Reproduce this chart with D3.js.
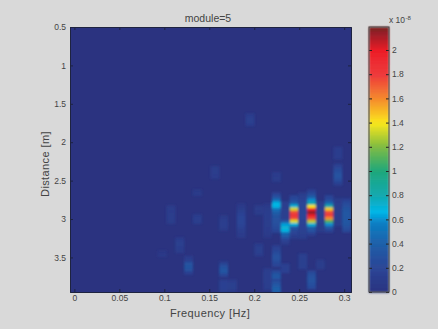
<!DOCTYPE html>
<html>
<head>
<meta charset="utf-8">
<script src="https://cdn.jsdelivr.net/npm/d3@7"></script>
<style>
  html, body { margin: 0; padding: 0; background: #d9d9d9; }
  text { font-family: "Liberation Sans", Arial, sans-serif; fill: #444; }
</style>
</head>
<body>
<div id="chart"></div>
<script>
// x ticks, y ticks and colorbar ticks
var freqTicks = [0, 0.05, 0.1, 0.15, 0.2, 0.25, 0.3];
var distTicks = [0.5, 1, 1.5, 2, 2.5, 3, 3.5];
var barTicks = [0, 0.2, 0.4, 0.6, 0.8, 1, 1.2, 1.4, 1.6, 1.8, 2];

// colormap, values in units of 1e-8
var cmapValues = [0, 0.2, 0.4, 0.58, 0.66, 0.8, 1.0, 1.2, 1.4, 1.6, 1.8, 2.0, 2.19];
var cmapColors = ["#2b3380", "#2a4596", "#1f5fa9", "#0a80c4", "#00b7ea", "#12a9b0", "#1ea77c", "#7dbb43", "#fbe81c", "#f58a2c", "#ee3a3c", "#ec1c28", "#7a2024"];

// non zero patches: frequency of the column, first distance, value every 0.04 m
var patchFreq = [
  0.2441, 0.2637, 0.2832,
  0.2246, 0.2246, 0.2246, 0.2246, 0.2246,
  0.2344, 0.2344, 0.2344,
  0.2539, 0.2539,
  0.2734, 0.2734,
  0.2637,
  0.2930, 0.2930, 0.2930,
  0.3027,
  0.2148, 0.2148,
  0.2051, 0.2051,
  0.1953,
  0.1855,
  0.1660, 0.1660, 0.1660,
  0.1758,
  0.1563,
  0.1367, 0.1367,
  0.1172, 0.1074, 0.0977, 0.1270
];
var patchStart = [
  2.71, 2.635, 2.71,
  2.675, 2.41, 3.36, 3.68, 3.83,
  3.03, 2.79, 3.6,
  2.675, 3.47,
  2.79, 3.55,
  3.69,
  2.08, 2.3, 2.75,
  2.75,
  2.82, 3.66,
  3.34, 2.84,
  1.646,
  2.82,
  2.97, 3.57, 3.81,
  3.81,
  2.33,
  2.635, 2.96,
  3.26, 2.84, 3.43, 3.5
];
var patchValues = [
  [0.2, 0.25, 0.4, 0.7, 1.35, 1.75, 1.85, 1.75, 1.35, 0.7, 0.35, 0.22, 0.18, 0.12],
  [0.15, 0.25, 0.4, 0.6, 0.8, 1.4, 1.95, 2.15, 2.0, 1.75, 1.3, 0.7, 0.4, 0.3, 0.15],
  [0.2, 0.25, 0.45, 0.8, 1.45, 1.75, 1.8, 1.6, 1.1, 0.6, 0.35, 0.2],
  [0.2, 0.3, 0.5, 0.68, 0.68, 0.5, 0.4, 0.32, 0.3, 0.3, 0.28, 0.25, 0.2],
  [0.12, 0.12, 0.12],
  [0.15, 0.2, 0.25, 0.3, 0.3, 0.25, 0.2],
  [0.22, 0.32, 0.35, 0.2],
  [0.3, 0.38, 0.42, 0.4],
  [0.35, 0.62, 0.72, 0.68, 0.45, 0.35, 0.2, 0.12],
  [0.14, 0.14, 0.14, 0.14, 0.14, 0.14],
  [0.15, 0.15, 0.15],
  [0.12, 0.15, 0.18, 0.2, 0.2, 0.2, 0.2, 0.2, 0.2, 0.2, 0.18, 0.18, 0.15, 0.14, 0.12],
  [0.14, 0.14, 0.14, 0.14, 0.14],
  [0.12, 0.14, 0.14, 0.14, 0.14, 0.14, 0.14, 0.12, 0.1, 0.1],
  [0.1, 0.12, 0.1],
  [0.22, 0.28, 0.3, 0.3, 0.28, 0.25],
  [0.12, 0.12, 0.12, 0.12],
  [0.15, 0.22, 0.26, 0.3, 0.3, 0.25, 0.15],
  [0.1, 0.12, 0.12, 0.12, 0.12, 0.12, 0.12, 0.1, 0.1],
  [0.16, 0.24, 0.28, 0.32, 0.34, 0.34, 0.34, 0.34, 0.32, 0.28, 0.22],
  [0.08, 0.1, 0.12, 0.12, 0.12, 0.12, 0.12, 0.12, 0.12, 0.1, 0.08],
  [0.12, 0.14, 0.14, 0.14, 0.14, 0.12, 0.12],
  [0.12, 0.14, 0.14, 0.12],
  [0.1, 0.12, 0.1],
  [0.12, 0.14, 0.14, 0.12],
  [0.08, 0.1, 0.14, 0.18, 0.2, 0.2, 0.2, 0.18, 0.14, 0.12, 0.1],
  [0.08, 0.12, 0.14, 0.14, 0.1],
  [0.14, 0.28, 0.34, 0.34, 0.2],
  [0.15, 0.16, 0.16, 0.14],
  [0.12, 0.14, 0.14, 0.1],
  [0.1, 0.12, 0.12, 0.12],
  [0.08, 0.1],
  [0.12, 0.14, 0.12],
  [0.12, 0.14, 0.14, 0.12, 0.1],
  [0.1, 0.12, 0.12, 0.12, 0.12, 0.1],
  [0.06, 0.08],
  [0.12, 0.14, 0.3, 0.32, 0.3, 0.15]
];

var width = 438, height = 329;
var plot = { left: 70, right: 351, top: 27, bottom: 292 };
var bar = { left: 369, right: 389 };
var rowStep = 0.04, colStep = 0.009766;

var svg = d3.select("#chart").append("svg")
    .attr("width", width)
    .attr("height", height)
    .style("display", "block");

var defs = svg.append("defs");
defs.append("filter").attr("id", "soft")
    .attr("x", "-10%").attr("y", "-10%").attr("width", "120%").attr("height", "120%")
    .append("feGaussianBlur").attr("stdDeviation", 0.8);
defs.append("clipPath").attr("id", "plotClip")
    .append("rect")
    .attr("x", plot.left).attr("y", plot.top)
    .attr("width", plot.right - plot.left).attr("height", plot.bottom - plot.top);

var x = d3.scaleLinear().domain([-0.00488, 0.3076]).range([plot.left, plot.right]);
var y = d3.scaleLinear().domain([0.5, 3.95]).range([plot.top, plot.bottom]);
var color = d3.scaleLinear().domain(cmapValues).range(cmapColors).clamp(true);
var barY = d3.scaleLinear().domain([0, 2.19]).range([plot.bottom, plot.top]);

// Heat map background, every cell not listed is zero
svg.append("rect")
    .attr("x", plot.left).attr("y", plot.top)
    .attr("width", plot.right - plot.left).attr("height", plot.bottom - plot.top)
    .attr("fill", color(0));

var cells = [];
patchFreq.forEach(function (f, i) {
  patchValues[i].forEach(function (v, j) {
    cells.push({ freq: f, dist: patchStart[i] + j * rowStep, value: v });
  });
});

svg.append("g")
    .attr("clip-path", "url(#plotClip)")
  .append("g")
    .attr("filter", "url(#soft)")
  .selectAll("rect")
  .data(cells)
  .enter().append("rect")
    .attr("x", function (d) { return x(d.freq - colStep / 2); })
    .attr("y", function (d) { return y(d.dist - rowStep / 2); })
    .attr("width", x(colStep) - x(0))
    .attr("height", y(rowStep) - y(0) + 0.3)
    .attr("fill", function (d) { return color(d.value); });

// Axes, ticks point inward like matlab
var xAxisBottom = svg.append("g")
    .attr("transform", "translate(0," + plot.bottom + ")")
    .call(d3.axisBottom(x).tickValues(freqTicks).tickFormat(d3.format("")).tickSize(-3).tickPadding(3));
var xAxisTop = svg.append("g")
    .attr("transform", "translate(0," + plot.top + ")")
    .call(d3.axisTop(x).tickValues(freqTicks).tickFormat("").tickSize(-3));
var yAxisLeft = svg.append("g")
    .attr("transform", "translate(" + plot.left + ",0)")
    .call(d3.axisLeft(y).tickValues(distTicks).tickFormat(d3.format("")).tickSize(-3).tickPadding(4));
var yAxisRight = svg.append("g")
    .attr("transform", "translate(" + plot.right + ",0)")
    .call(d3.axisRight(y).tickValues(distTicks).tickFormat("").tickSize(-3));

[xAxisBottom, xAxisTop, yAxisLeft, yAxisRight].forEach(function (a) {
  a.selectAll("path").attr("stroke", "#1e2340").attr("stroke-width", 1);
  a.selectAll("line").attr("stroke", "#1e2340");
  a.selectAll("text").style("font-size", "8.5px").attr("font-family", null);
});

// Colorbar
var levels = d3.range(64).map(function (i) { return (i + 0.5) * 2.19 / 64; });
svg.append("g").attr("filter", "url(#soft)")
  .selectAll("rect")
  .data(levels)
  .enter().append("rect")
    .attr("x", bar.left)
    .attr("y", function (d) { return barY(d + 2.19 / 128); })
    .attr("width", bar.right - bar.left)
    .attr("height", barY(0) - barY(2.19 / 64) + 0.6)
    .attr("fill", function (d) { return color(d); });

var barAxis = svg.append("g")
    .attr("transform", "translate(" + bar.right + ",0)")
    .call(d3.axisRight(barY).tickValues(barTicks).tickFormat(d3.format("")).tickSize(-3).tickPadding(3));
var barAxisLeft = svg.append("g")
    .attr("transform", "translate(" + bar.left + ",0)")
    .call(d3.axisLeft(barY).tickValues(barTicks).tickFormat("").tickSize(-3));
[barAxis, barAxisLeft].forEach(function (a) {
  a.selectAll("path").attr("stroke", "none").attr("fill", "none");
  a.selectAll("line").attr("stroke", "#222");
  a.selectAll("text").style("font-size", "8.5px").attr("font-family", null);
});

svg.append("rect")
    .attr("x", bar.left).attr("y", plot.top)
    .attr("width", bar.right - bar.left).attr("height", plot.bottom - plot.top)
    .attr("fill", "none").attr("stroke", "#444");

// Titles
svg.append("text")
    .attr("x", 208).attr("y", 22)
    .attr("text-anchor", "middle")
    .style("font-size", "10.5px")
    .text("module=5");

svg.append("text")
    .attr("x", 210).attr("y", 317)
    .attr("text-anchor", "middle")
    .style("font-size", "11px")
    .style("letter-spacing", "0.4px")
    .text("Frequency [Hz]");

svg.append("text")
    .attr("transform", "translate(49,164) rotate(-90)")
    .attr("text-anchor", "middle")
    .style("font-size", "11px")
    .style("letter-spacing", "0.4px")
    .text("Distance [m]");

var barNote = svg.append("text")
    .attr("x", 389).attr("y", 23)
    .style("font-size", "8.5px")
    .text("x 10");
barNote.append("tspan")
    .attr("dx", 0.5).attr("dy", -3)
    .style("font-size", "6px")
    .text("-8");
</script>
</body>
</html>
